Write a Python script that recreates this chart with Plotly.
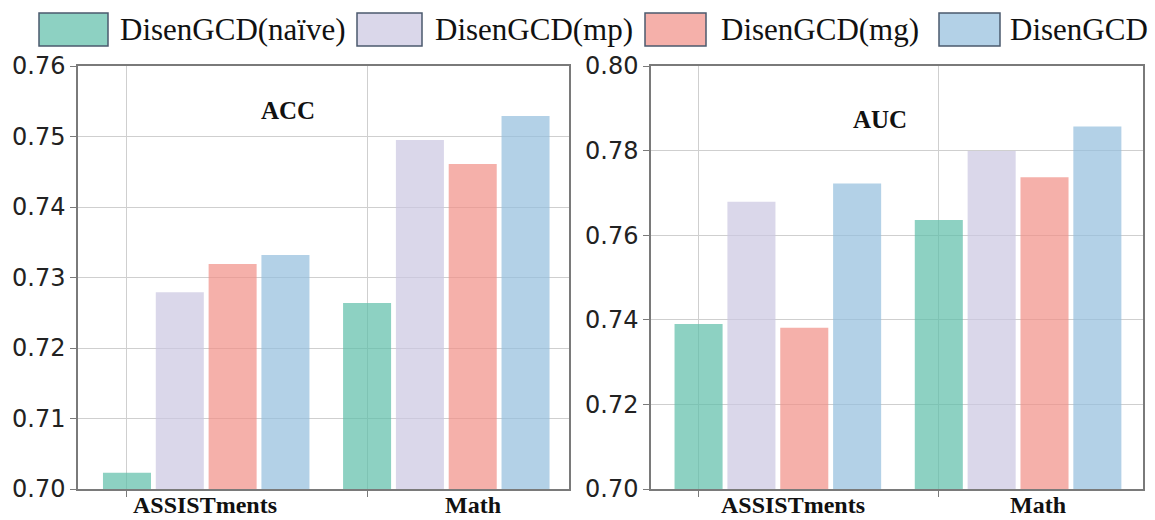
import plotly.graph_objects as go

# Datasets and model variants
datasets = ["ASSISTments", "Math"]
variants = ["DisenGCD(naïve)", "DisenGCD(mp)", "DisenGCD(mg)", "DisenGCD"]

# ACC per variant (ASSISTments, Math)
acc_naive = [0.7023, 0.7264]
acc_mp = [0.7279, 0.7495]
acc_mg = [0.7319, 0.7461]
acc_full = [0.7332, 0.7529]

# AUC per variant (ASSISTments, Math)
auc_naive = [0.7390, 0.7636]
auc_mp = [0.7679, 0.7799]
auc_mg = [0.7381, 0.7737]
auc_full = [0.7722, 0.7857]

acc_ticks = [0.70, 0.71, 0.72, 0.73, 0.74, 0.75, 0.76]
auc_ticks = [0.70, 0.72, 0.74, 0.76, 0.78, 0.80]

bar_fill = ["rgba(92,189,168,0.7)", "rgba(202,198,225,0.7)",
            "rgba(241,142,134,0.7)", "rgba(147,189,221,0.7)"]
legend_fill = ["#8dd1c2", "#dad7ea", "#f5b0aa", "#b3d1e7"]

W, H = 1155, 520
STEP, BAR_W = 0.22, 0.2

fig = go.Figure()

panels = [
    dict(xa="x", ya="y", series=[acc_naive, acc_mp, acc_mg, acc_full]),
    dict(xa="x2", ya="y2", series=[auc_naive, auc_mp, auc_mg, auc_full]),
]
for p in panels:
    for k, (name, vals) in enumerate(zip(variants, p["series"])):
        fig.add_trace(go.Bar(
            x=[i + k * STEP for i in range(len(datasets))],
            y=vals,
            width=BAR_W,
            name=name,
            marker=dict(color=bar_fill[k], line=dict(width=0)),
            xaxis=p["xa"], yaxis=p["ya"],
            showlegend=False,
        ))


def px_x(v):
    return v / W


def px_y(v):
    return 1 - v / H


axis_common = dict(
    showline=True, mirror=True, linecolor="#7a7a7a", linewidth=1.5,
    showgrid=True, gridcolor="#cfcfcf", gridwidth=1,
    ticks="outside", ticklen=6, tickcolor="#7a7a7a", zeroline=False,
    automargin=False,
)

tick_font = dict(family="DejaVu Sans", size=24, color="#222")

fig.update_layout(
    width=W, height=H,
    margin=dict(l=0, r=0, t=0, b=0),
    plot_bgcolor="white", paper_bgcolor="white",
    barmode="overlay",
    xaxis=dict(domain=[px_x(78), px_x(569)], range=[-0.204, 1.841],
               tickvals=[0, 1], showticklabels=False, **axis_common),
    yaxis=dict(domain=[px_y(489), px_y(66)], range=[0.70, 0.76],
               tickvals=acc_ticks, tickformat=".2f", tickfont=tick_font,
               **axis_common),
    xaxis2=dict(domain=[px_x(651), px_x(1143)], range=[-0.198, 1.850],
                tickvals=[0, 1], showticklabels=False, anchor="y2",
                **axis_common),
    yaxis2=dict(domain=[px_y(489), px_y(66)], range=[0.70, 0.80],
                tickvals=auc_ticks, tickformat=".2f", anchor="x2",
                tickfont=tick_font, **axis_common),
)

serif_bold = dict(family="Liberation Serif", size=25, color="#111")
label_font = dict(family="Liberation Serif", size=24, color="#111")

# Panel titles
fig.add_annotation(x=0.671, y=0.7537, xref="x", yref="y", text="<b>ACC</b>",
                   showarrow=False, font=serif_bold)
fig.add_annotation(x=0.757, y=0.7874, xref="x2", yref="y2", text="<b>AUC</b>",
                   showarrow=False, font=serif_bold)

# Dataset labels under each panel
label_pos = [("x", [0.325, 1.44]), ("x2", [0.393, 1.413])]
for xref, xs in label_pos:
    for name, xv in zip(datasets, xs):
        fig.add_annotation(x=xv, y=px_y(519), xref=xref, yref="paper",
                           text=f"<b>{name}</b>", showarrow=False,
                           yanchor="bottom", borderpad=0,
                           font=label_font)

# Legend row with large swatches
swatch_x = [(39, 108), (357, 422), (645, 706), (939, 1000)]
text_x = [118, 433, 719, 1008]
for k, name in enumerate(variants):
    x0, x1 = swatch_x[k]
    fig.add_shape(type="rect", xref="paper", yref="paper",
                  x0=px_x(x0), x1=px_x(x1), y0=px_y(46), y1=px_y(13),
                  fillcolor=legend_fill[k],
                  line=dict(color="#4b5a6e", width=1.5))
    fig.add_annotation(x=px_x(text_x[k]), y=px_y(29), xref="paper", yref="paper",
                       text=name, showarrow=False, xanchor="left",
                       yanchor="middle",
                       font=dict(family="Liberation Serif", size=31, color="#111"))

fig.write_html("out.html")
